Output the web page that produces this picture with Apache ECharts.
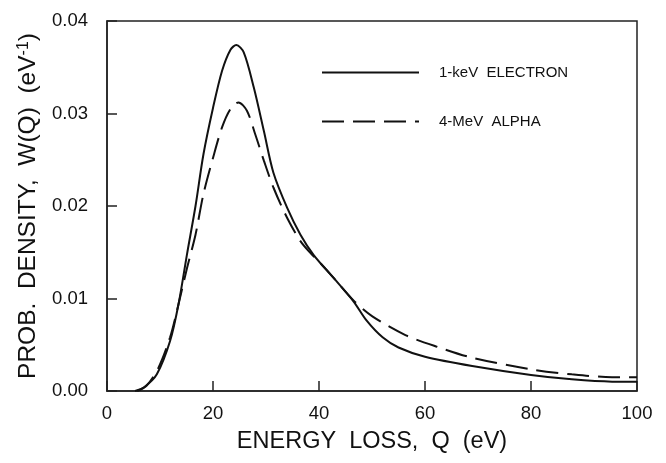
<!DOCTYPE html>
<html>
<head>
<meta charset="utf-8">
<script src="https://cdn.jsdelivr.net/npm/echarts@6/dist/echarts.min.js"></script>
<style>html,body{margin:0;padding:0;background:#fff;}#c{width:666px;height:463px;}</style>
</head>
<body>
<div id="c"></div>
<script>
var qElectron = [5.3,7,9.4,11.9,13.5,15.1,16.7,18.2,20.0,21.7,23.3,24.4,25.8,27.7,29.6,31.4,34.0,36.5,39.0,42.8,46.5,49.0,52.0,55.0,60.0,68.9,80.0,87.7,95.3,100];
var wElectron = [0,0.0004,0.0018,0.0054,0.0094,0.0148,0.0200,0.0256,0.0306,0.0346,0.0369,0.0374,0.0366,0.0328,0.0281,0.0236,0.0198,0.0169,0.0147,0.0122,0.0097,0.0076,0.0058,0.0047,0.0037,0.0027,0.00173,0.00126,0.00101,0.00100];
var qAlpha = [5.7,7.5,9.7,11.9,13.5,15.1,16.7,18.2,20.0,21.7,23.3,24.8,26.4,28.0,29.6,31.4,34.0,36.5,38.4,40.3,42.8,46.5,50.0,56.3,62.6,68.9,80.0,87.7,95.3,100];
var wAlpha = [0,0.0006,0.0025,0.0058,0.0094,0.0133,0.0169,0.0213,0.0252,0.0285,0.0305,0.0312,0.0303,0.0277,0.0249,0.0220,0.0187,0.0162,0.0149,0.0138,0.0122,0.0098,0.0081,0.00605,0.00472,0.0036,0.00234,0.0018,0.00150,0.00150];
var seriesNames = ['1-keV  ELECTRON', '4-MeV  ALPHA'];
var xTicks = [0, 20, 40, 60, 80, 100];
var yTicks = [0.00, 0.01, 0.02, 0.03, 0.04];

function pairs(xs, ys) { return xs.map(function (x, i) { return [x, ys[i]]; }); }

var FONT = '"Liberation Sans", Arial, Helvetica, sans-serif';
var chart = echarts.init(document.getElementById('c'), null, {renderer: 'canvas'});
chart.setOption({
  animation: false,
  backgroundColor: '#fff',
  grid: {left: 107, right: 29, top: 21, bottom: 72, show: true, borderColor: '#222', borderWidth: 1.5, backgroundColor: 'transparent'},
  legend: {
    left: 316, top: 60, orient: 'vertical', itemWidth: 97, itemHeight: 14, itemGap: 34,
    itemStyle: {opacity: 0},
    textStyle: {fontFamily: FONT, fontSize: 15, color: '#111', padding: [0, 0, 0, 15]},
    data: seriesNames
  },
  xAxis: {
    type: 'value', min: xTicks[0], max: xTicks[xTicks.length - 1], interval: 20,
    name: 'ENERGY  LOSS,  Q  (eV)', nameLocation: 'middle', nameGap: 39,
    nameTextStyle: {fontFamily: FONT, fontSize: 23.5, color: '#111'},
    axisLine: {lineStyle: {color: '#222', width: 1.5}},
    axisTick: {inside: true, length: 10, lineStyle: {color: '#222', width: 1.5}},
    axisLabel: {fontFamily: FONT, fontSize: 18.5, color: '#111', margin: 13},
    splitLine: {show: false}
  },
  yAxis: {
    type: 'value', min: yTicks[0], max: yTicks[yTicks.length - 1], interval: 0.01,
    name: 'PROB.  DENSITY,  W(Q)  (eV{sup|-1})', nameLocation: 'middle', nameGap: 66,
    nameTextStyle: {fontFamily: FONT, fontSize: 24.5, color: '#111',
      rich: {sup: {fontFamily: FONT, fontSize: 16, color: '#111', verticalAlign: 'top', padding: [0, 0, 8, 0]}}},
    axisLine: {lineStyle: {color: '#222', width: 1.5}},
    axisTick: {inside: true, length: 10, lineStyle: {color: '#222', width: 1.5}},
    axisLabel: {fontFamily: FONT, fontSize: 18.5, color: '#111', margin: 19, formatter: function (v) { return v.toFixed(2); }},
    splitLine: {show: false}
  },
  series: [
    {name: seriesNames[0], type: 'line', data: pairs(qElectron, wElectron), smooth: 0.3, symbol: 'none',
     lineStyle: {color: '#111', width: 2, type: 'solid'}, itemStyle: {color: '#111'}},
    {name: seriesNames[1], type: 'line', data: pairs(qAlpha, wAlpha), smooth: 0.3, symbol: 'none',
     lineStyle: {color: '#111', width: 2, type: [22, 9]}, itemStyle: {color: '#111'}}
  ]
});
</script>
</body>
</html>
